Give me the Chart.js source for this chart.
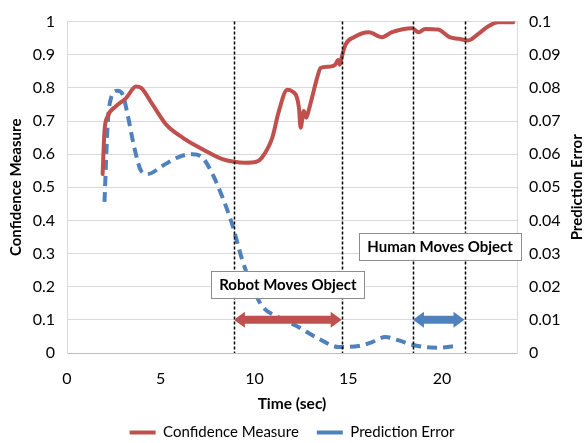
<!DOCTYPE html>
<html>
<head>
<meta charset="utf-8">
<script src="https://cdn.jsdelivr.net/npm/chart.js@4"></script>
<style>
  html, body { margin: 0; padding: 0; background: #fff; }
  #wrap { width: 584px; height: 443px; }
</style>
</head>
<body>
<div id="wrap"><canvas id="chart" width="584" height="443"></canvas></div>
<script>
// data
const confTime = [1.9, 2.0, 2.17, 2.6, 3.15, 3.68, 3.95, 4.56, 5.28, 6.16, 7.22, 8.29, 8.9, 9.5, 10.1, 10.4, 10.95, 11.3, 11.75, 12.0, 12.37, 12.46, 12.63, 12.76, 12.9, 13.34, 13.52, 13.96, 14.3, 14.45, 14.55, 14.64, 14.85, 15.3, 16.1, 16.8, 17.33, 18.4, 18.75, 19.1, 19.8, 20.4, 20.9, 21.4, 21.94, 22.47, 23.0, 23.8];
const confValues = [0.54, 0.67, 0.714, 0.744, 0.769, 0.804, 0.8, 0.75, 0.69, 0.65, 0.615, 0.585, 0.577, 0.574, 0.577, 0.59, 0.65, 0.73, 0.794, 0.79, 0.74, 0.68, 0.73, 0.71, 0.734, 0.83, 0.86, 0.864, 0.87, 0.884, 0.87, 0.89, 0.93, 0.953, 0.968, 0.953, 0.968, 0.98, 0.968, 0.978, 0.976, 0.953, 0.948, 0.943, 0.963, 0.986, 0.998, 0.998];

const errTime = [2.0, 2.17, 2.35, 2.7, 2.97, 3.23, 3.59, 3.95, 4.3, 5.1, 5.98, 6.69, 7.22, 7.76, 8.29, 8.8, 9.35, 9.88, 10.4, 11.13, 12.19, 13.43, 14.5, 15.56, 16.27, 16.98, 17.7, 18.4, 19.1, 19.8, 20.7];
const errValues = [0.0456, 0.069, 0.077, 0.0791, 0.078, 0.072, 0.062, 0.055, 0.054, 0.0565, 0.0592, 0.06, 0.059, 0.054, 0.047, 0.039, 0.028, 0.02, 0.0142, 0.0112, 0.0083, 0.0043, 0.0018, 0.0021, 0.0033, 0.0048, 0.0038, 0.0025, 0.0018, 0.0016, 0.0021];

// event markers (sec)
const eventTimes = [8.9, 14.65, 18.45, 21.2];
const robotSpan = [8.9, 14.65];
const humanSpan = [18.45, 21.2];
const spanLevel = 0.1;
const robotLabel = { text: 'Robot Moves Object', x: 11.78, y: 0.207 };
const humanLabel = { text: 'Human Moves Object', x: 19.9, y: 0.322 };

const RED = '#c0504d';
const BLUE = '#4f81bd';
const FONT = 'Lato, "Liberation Sans", sans-serif';

function toPoints(xs, ys) {
    return xs.map((x, i) => ({ x: x, y: ys[i] }));
}

function drawArrow(ctx, x1, x2, y, color) {
    const shaft = 4, head = 8, headLen = 11;
    ctx.beginPath();
    ctx.moveTo(x1, y);
    ctx.lineTo(x1 + headLen, y - head);
    ctx.lineTo(x1 + headLen, y - shaft);
    ctx.lineTo(x2 - headLen, y - shaft);
    ctx.lineTo(x2 - headLen, y - head);
    ctx.lineTo(x2, y);
    ctx.lineTo(x2 - headLen, y + head);
    ctx.lineTo(x2 - headLen, y + shaft);
    ctx.lineTo(x1 + headLen, y + shaft);
    ctx.lineTo(x1 + headLen, y + head);
    ctx.closePath();
    ctx.fillStyle = color;
    ctx.fill();
}

function drawLabel(ctx, lbl, xs, ys) {
    ctx.font = 'bold 15px ' + FONT;
    const w = ctx.measureText(lbl.text).width + 16;
    const h = 27;
    const cx = xs.getPixelForValue(lbl.x);
    const cy = ys.getPixelForValue(lbl.y);
    ctx.fillStyle = '#fff';
    ctx.fillRect(cx - w / 2, cy - h / 2, w, h);
    ctx.strokeStyle = '#8c8c8c';
    ctx.lineWidth = 1;
    ctx.setLineDash([]);
    ctx.strokeRect(Math.round(cx - w / 2) + 0.5, Math.round(cy - h / 2) + 0.5, Math.round(w), h);
    ctx.fillStyle = '#000';
    ctx.textAlign = 'center';
    ctx.textBaseline = 'middle';
    ctx.fillText(lbl.text, cx, cy + 1);
}

const overlay = {
    id: 'overlay',
    afterDatasetsDraw(chart) {
        const ctx = chart.ctx;
        const xs = chart.scales.x;
        const ys = chart.scales.y;
        const area = chart.chartArea;
        ctx.save();

        // vertical dashed event lines
        ctx.strokeStyle = '#000';
        ctx.lineWidth = 1.5;
        ctx.setLineDash([3, 2]);
        eventTimes.forEach(t => {
            const px = Math.round(xs.getPixelForValue(t)) + 0.5;
            ctx.beginPath();
            ctx.moveTo(px, area.top);
            ctx.lineTo(px, area.bottom);
            ctx.stroke();
        });
        ctx.setLineDash([]);

        // double arrows
        const ay = ys.getPixelForValue(spanLevel);
        drawArrow(ctx, xs.getPixelForValue(robotSpan[0]), xs.getPixelForValue(robotSpan[1]), ay, RED);
        drawArrow(ctx, xs.getPixelForValue(humanSpan[0]), xs.getPixelForValue(humanSpan[1]), ay, BLUE);

        // text boxes
        drawLabel(ctx, robotLabel, xs, ys);
        drawLabel(ctx, humanLabel, xs, ys);

        // right axis title, reading bottom to top
        ctx.translate(577, (area.top + area.bottom) / 2);
        ctx.rotate(-Math.PI / 2);
        ctx.font = 'bold 15px ' + FONT;
        ctx.fillStyle = '#000';
        ctx.textAlign = 'center';
        ctx.textBaseline = 'middle';
        ctx.fillText('Prediction Error', 0, 0);
        ctx.restore();
    }
};

new Chart(document.getElementById('chart'), {
    type: 'scatter',
    data: {
        datasets: [
            {
                label: 'Confidence Measure',
                data: toPoints(confTime, confValues),
                yAxisID: 'y',
                showLine: true,
                borderColor: RED,
                backgroundColor: RED,
                borderWidth: 4,
                pointRadius: 0,
                cubicInterpolationMode: 'monotone',
                borderCapStyle: 'round',
                borderJoinStyle: 'round'
            },
            {
                label: 'Prediction Error',
                data: toPoints(errTime, errValues),
                yAxisID: 'y1',
                showLine: true,
                borderColor: BLUE,
                backgroundColor: BLUE,
                borderWidth: 4,
                borderDash: [10, 6],
                pointRadius: 0,
                cubicInterpolationMode: 'monotone'
            }
        ]
    },
    options: {
        responsive: false,
        animation: false,
        layout: { padding: { top: 16, left: 0, right: 0, bottom: -7 } },
        plugins: {
            tooltip: { enabled: false },
            legend: {
                position: 'bottom',
                labels: {
                    usePointStyle: true,
                    pointStyle: 'line',
                    pointStyleWidth: 26,
                    padding: 18,
                    color: '#000',
                    font: { family: FONT, size: 15 }
                }
            }
        },
        scales: {
            x: {
                type: 'linear',
                min: 0,
                max: 24,
                grid: { display: false },
                border: { display: true, color: '#bfbfbf' },
                ticks: {
                    stepSize: 5,
                    includeBounds: false,
                    padding: 8,
                    color: '#000',
                    maxRotation: 0,
                    font: { family: FONT, size: 16 }
                },
                title: {
                    display: true,
                    text: 'Time (sec)',
                    color: '#000',
                    padding: { top: 0, bottom: -6 },
                    font: { family: FONT, size: 15.5, weight: 'bold' }
                },
                afterFit(scale) { scale.height = 54; }
            },
            y: {
                position: 'left',
                min: 0,
                max: 1,
                grid: { color: '#d9d9d9', drawTicks: false },
                border: { display: true, color: '#d9d9d9' },
                ticks: {
                    stepSize: 0.1,
                    padding: 12,
                    color: '#000',
                    font: { family: FONT, size: 16 },
                    callback: v => String(+v.toFixed(1))
                },
                title: {
                    display: true,
                    text: 'Confidence Measure',
                    color: '#000',
                    padding: { top: 7, bottom: 4 },
                    font: { family: FONT, size: 15, weight: 'bold' }
                },
                afterFit(scale) { scale.width = 67; }
            },
            y1: {
                position: 'right',
                min: 0,
                max: 0.1,
                grid: { drawOnChartArea: false, drawTicks: false },
                border: { display: true, color: '#d9d9d9' },
                ticks: {
                    stepSize: 0.01,
                    padding: 12,
                    color: '#000',
                    font: { family: FONT, size: 16 },
                    callback: v => String(+v.toFixed(2))
                },
                afterFit(scale) { scale.width = 67; }
            }
        }
    },
    plugins: [overlay]
});
</script>
</body>
</html>
